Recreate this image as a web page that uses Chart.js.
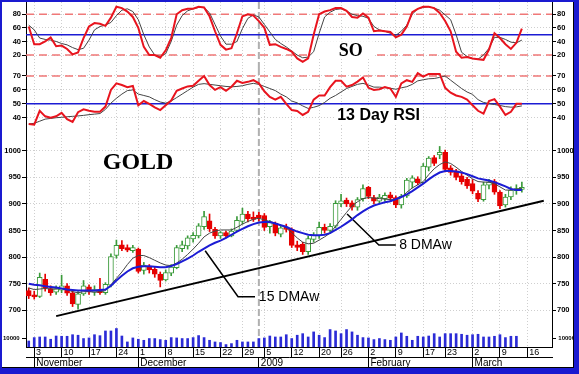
<!DOCTYPE html>
<html>
<head>
<meta charset="utf-8">
<script src="https://cdn.jsdelivr.net/npm/chart.js@4.4.1/dist/chart.umd.min.js"></script>
<style>
  html, body { margin: 0; padding: 0; background: #fff; }
  #wrap { position: relative; width: 579px; height: 374px; background: #1a1ad0; overflow: hidden; }
  #paper { position: absolute; left: 2px; top: 2px; width: 572px; height: 366px; background: #fff; }
  #edge { position: absolute; left: 2px; top: 2px; width: 572px; height: 366px; box-sizing: border-box;
          border-right: 1px solid #000; border-bottom: 1px solid #000; }
  canvas { position: absolute; left: 2px; }
  #so { top: 2px; }
  #rsi { top: 68px; }
  #px { top: 129px; }
</style>
</head>
<body>
<div id="wrap">
  <div id="paper"></div>
  <canvas id="so" width="572" height="66"></canvas>
  <canvas id="rsi" width="572" height="61"></canvas>
  <canvas id="px" width="572" height="239"></canvas>
  <div id="edge"></div>
</div>
<script>
Chart.defaults.font.family = "'Liberation Sans', Arial, sans-serif";
Chart.defaults.color = '#000';

// x = trading day index, 0 = Oct 31 2008 ... 90 = Mar 13 2009
const xMin = -0.5, xMax = 95.5;
const weekIdx = [1, 6, 11, 16, 20, 25, 30, 35, 39, 43, 48, 53, 57, 62, 67, 72, 76, 81, 86, 91];
const weekLbl = ['3', '10', '17', '24', '1', '8', '15', '22', '29', '5', '12', '20', '26', '2', '9', '17', '23', '2', '9', '16'];
const monthIdx = [1, 20, 42, 62, 81];
const monthLbl = ['November', 'December', '2009', 'February', 'March'];
const yearIdx = 42;

// gold candles
const opens = [737,729,726,758,741,734,738,746,733,711,
  731,744,734,739,733,747,803,823,818,812,
  815,775,783,777,768,757,770,780,816,821,
  834,840,857,868,852,840,846,840,850,867,
  881,875,879,878,857,864,843,856,852,823,
  824,810,833,840,856,850,858,900,907,902,
  894,910,931,912,905,910,917,912,898,915,
  941,947,940,969,987,992,997,968,962,953,
  946,938,920,908,935,942,922,898,913,925,927];
const highs = [742,736,770,768,746,746,766,750,737,735,
  756,748,746,760,752,806,832,831,823,822,
  817,790,786,781,772,776,786,822,830,840,
  846,863,886,881,856,848,849,853,876,892,
  886,885,884,882,869,866,860,862,855,830,
  828,839,846,866,862,863,906,918,911,906,
  912,936,933,916,918,921,922,915,918,948,
  953,951,976,989,991,1008,1001,972,965,958,
  950,946,925,941,946,946,925,918,932,936,941];
const lows = [722,721,724,736,728,730,733,728,707,702,
  728,730,728,730,730,744,798,812,810,809,
  770,768,770,762,744,755,765,778,810,815,
  828,836,852,848,835,835,836,838,848,862,
  866,867,868,850,845,840,838,847,818,812,
  805,805,828,835,845,845,855,895,895,888,
  888,905,910,900,900,905,905,893,892,912,
  930,936,938,962,972,985,960,954,945,937,
  929,919,904,905,928,918,891,894,908,918,922];
const closes = [727,725,762,742,733,741,746,732,712,731,
  746,735,739,733,749,801,822,816,813,818,
  773,785,776,768,756,771,781,818,823,836,
  841,859,876,853,840,846,840,849,869,881,
  872,871,873,856,865,845,855,852,822,818,
  810,835,841,856,850,858,901,906,900,894,
  908,929,914,905,913,916,911,898,914,945,
  949,940,971,986,976,997,965,959,950,942,
  934,924,909,936,941,922,896,913,926,929,931];

const volume = [6900,10800,11500,11500,8900,12600,12300,12300,14100,13500,
  9700,10400,14100,13000,18400,18400,21200,12600,5800,10400,
  8900,7700,9700,9700,8500,7700,10800,10400,9700,9700,
  10800,13100,10800,7700,5800,5100,2800,3900,7700,5800,
  5800,5800,9700,10400,12600,11500,11500,14100,9700,13500,
  15300,11500,17300,13500,10800,20000,18400,15300,20000,17300,
  13500,10800,10400,8500,9700,8500,7700,11500,16100,12300,
  7700,12300,11500,12600,15300,11500,15300,15300,15300,14600,
  13500,14100,14600,11500,11500,12300,14100,10800,12300,12300,null];

const ma8 = [742,739,740,741,740,740,741,739,735,733,
  735,735,734,735,737,748,760,772,786,798,
  803,803,799,794,789,785,784,789,796,805,
  815,826,838,845,849,851,851,851,856,862,
  867,871,873,870,867,864,860,855,846,836,
  828,825,826,832,838,845,858,871,884,896,
  904,910,912,911,910,909,908,908,912,922,
  930,936,942,955,966,974,979,976,969,961,
  954,947,942,941,941,938,932,926,926,928,929];
const ma15 = [750,748,747,745,744,743,741,739,738,737,
  737,737,737,738,739,746,756,765,773,779,
  782,783,783,782,781,781,783,787,792,797,
  803,810,816,822,827,831,836,842,848,853,
  858,862,865,866,866,863,860,857,852,848,
  845,842,841,841,842,845,851,857,864,871,
  879,886,892,897,900,903,905,909,913,918,
  924,931,938,946,953,959,962,962,961,959,
  956,952,948,946,944,941,937,933,928,926,926];

// stochastic oscillator
const soK = [62,36,36,40,46,33,34,29,21,24,
  45,62,67,66,63,75,91,89,84,76,
  60,32,20,20,16,27,45,80,86,88,
  88,91,90,77,55,35,28,30,52,77,
  80,78,70,60,35,36,32,29,25,15,
  10,15,50,80,84,86,89,89,85,76,
  75,81,75,55,56,55,54,46,50,62,
  83,88,91,91,89,82,70,55,25,16,
  17,15,14,13,28,52,45,36,29,38,59];
const soD = [64,57,45,43,42,40,37,35,31,28,
  30,42,57,62,64,68,78,86,88,84,
  72,50,32,20,18,22,40,64,78,85,
  88,90,90,82,65,48,36,36,40,59,
  74,79,76,65,54,43,37,32,26,20,
  16,17,25,52,76,83,87,88,85,80,
  78,77,74,62,57,55,52,49,55,64,
  80,88,90,91,89,86,79,72,50,24,
  18,15,14,20,30,46,46,43,39,38,42];

// 13 day RSI
const rsi = [35.5,35,45,41,40,41,43.5,39,37,44,
  46,45,44.3,44.3,48,60,64.7,63.5,62,62.8,
  49,52,50,47.5,45.5,49,52.4,59.4,61,62.5,
  63,66.6,70,63.5,60,62,59.4,62.3,66.6,65,
  65.8,67,64.7,59,55,53,55,50,45.5,44.8,
  42,44.3,53,56,56,62,66.6,66.6,62.3,63.5,
  66,69,61.5,60,60.5,62,61,55,64.7,67,
  65.8,72,69.5,71.5,71.5,71.5,61.5,58,56,55,
  53,49,45,43,52,53.4,48,42,44.3,50,50];
const rsiSig = [35.5,36,37.5,39,39.5,40,40.3,40.7,41,41.3,
  41.7,42.2,42.6,43,46,50.5,54,57,59.5,60,
  57,56,55,53,51.3,50.5,52,54.5,57,59.5,
  62,64,64.5,64,63.5,63,62.5,62.2,62.5,63,
  64,64.7,64,62.5,61,59.5,57,55,52,50.7,
  48.5,46.7,47.5,48.7,51,54,56,58.5,61,62.5,
  64,64.7,63.5,62,62,61.6,61.2,60.5,61.5,62.3,
  64,66.5,67.3,68,68.2,69,70,67,64,61,
  58.5,56.8,53,51,50.2,49.5,48.8,48,47.6,47.8,48.5];

// trend line and label leaders (day index, price)
const trendX = [5, 94], trendY = [689, 906];
const lead15X = [32.2, 38.2, 41.3], lead15Y = [812, 725.6, 725.6];
const lead8X = [58.1, 63.9, 67], lead8Y = [881, 822.7, 822.7];

const soTicks = [20, 40, 60, 80];
const rsiTicks = [40, 50, 60, 70];
const pxTicks = [700, 750, 800, 850, 900, 950, 1000];
const volTicks = [10000];

const pts = arr => arr.map((v, i) => ({ x: i, y: v }));
const pairs = (xs, ys) => xs.map((x, i) => ({ x: x, y: ys[i] }));
const span = (a, b) => a.map((v, i) => ({ x: i, y: [v, b[i]] }));
const up = i => closes[i] >= opens[i];

const RED = '#e8141e', DASH_RED = '#f07878', BLUE = '#1c1cd4', GREEN = '#3a9a3a';
const SANS = "'Liberation Sans', Arial, sans-serif";
const SERIF = "'Liberation Serif', 'Times New Roman', serif";

// reference lines + texts per panel
const panelMarks = {
  so: {
    hlines: [
      { v: 80, color: DASH_RED, width: 1.5, dash: [8, 5] },
      { v: 20, color: DASH_RED, width: 1.5, dash: [8, 5] },
      { v: 50, color: BLUE, width: 1.5, dash: [] }
    ],
    texts: [{ text: 'SO', x: 56.6, y: 18.3, font: 'bold 18px ' + SERIF, base: 'alphabetic', box: [27, 12] }]
  },
  rsi: {
    hlines: [
      { v: 70, color: DASH_RED, width: 1.5, dash: [8, 5] },
      { v: 50, color: BLUE, width: 1.5, dash: [] }
    ],
    texts: [{ text: '13 Day RSI', x: 56.3, y: 38.3, font: 'bold 16px ' + SANS, base: 'alphabetic', box: [3, 3] }]
  },
  px: {
    hlines: [],
    texts: [
      { text: 'GOLD', x: 13.5, y: 965.6, font: 'bold 24px ' + SERIF, base: 'alphabetic', box: [3, 3] },
      { text: '15 DMAw', x: 42.0, y: 725.6, font: '14px ' + SANS, base: 'middle' },
      { text: '8 DMAw', x: 67.6, y: 822.7, font: '14px ' + SANS, base: 'middle' }
    ]
  }
};

const marks = {
  id: 'marks',
  beforeDatasetsDraw(chart) {
    const o = panelMarks[chart.canvas.id];
    if (!o) return;
    const ctx = chart.ctx, a = chart.chartArea;
    const sx = chart.scales.x, sy = chart.scales.y;
    ctx.save();
    ctx.beginPath();
    ctx.rect(a.left, a.top, a.right - a.left, a.bottom - a.top);
    ctx.clip();
    // year separator
    const yx = sx.getPixelForValue(yearIdx);
    ctx.strokeStyle = '#b0b0b0';
    ctx.lineWidth = 2;
    ctx.setLineDash([7, 3]);
    ctx.beginPath(); ctx.moveTo(yx, a.top); ctx.lineTo(yx, a.bottom); ctx.stroke();
    o.hlines.forEach(h => {
      const py = sy.getPixelForValue(h.v);
      ctx.strokeStyle = h.color;
      ctx.lineWidth = h.width;
      ctx.setLineDash(h.dash);
      ctx.beginPath(); ctx.moveTo(a.left, py); ctx.lineTo(a.right, py); ctx.stroke();
    });
    ctx.setLineDash([]);
    o.texts.forEach(t => {
      ctx.font = t.font;
      ctx.textBaseline = t.base;
      ctx.textAlign = 'left';
      const px = sx.getPixelForValue(t.x), py = sy.getPixelForValue(t.y);
      if (t.box) {
        const m = ctx.measureText(t.text);
        ctx.fillStyle = '#fff';
        ctx.fillRect(px - t.box[0], py - m.actualBoundingBoxAscent - 2,
          m.width + t.box[0] + t.box[1], m.actualBoundingBoxAscent + m.actualBoundingBoxDescent + 4);
      }
      ctx.fillStyle = '#000';
      ctx.fillText(t.text, px, py);
    });
    ctx.restore();
  }
};
Chart.register(marks);

function yAxis(pos, min, max, ticks, w, extra) {
  return Object.assign({
    type: 'linear', position: pos, min: min, max: max, bounds: 'data',
    afterBuildTicks: s => { s.ticks = ticks.map(v => ({ value: v })); },
    afterFit: s => { s.width = w; s.paddingTop = 0; s.paddingBottom = 0; },
    grid: { drawOnChartArea: pos === 'left', color: '#cfcfcf', tickLength: 4, tickColor: '#000' },
    border: { color: '#000', dash: [1, 2] },
    ticks: { font: { size: 7.5, weight: 'bold' }, color: '#000', padding: 1, callback: v => String(v) }
  }, extra || {});
}

function xGrid() {
  return {
    type: 'linear', min: xMin, max: xMax, bounds: 'data', offset: false,
    afterBuildTicks: s => { s.ticks = weekIdx.map(v => ({ value: v })); },
    afterFit: s => { s.height = 0; s.paddingLeft = 0; s.paddingRight = 0; },
    ticks: { display: false },
    grid: { color: '#cfcfcf', drawTicks: false, offset: false },
    border: { display: false, dash: [1, 2] }
  };
}

function base(scales) {
  return {
    responsive: false, animation: false, events: [],
    layout: { padding: 0, autoPadding: false },
    scales: scales,
    plugins: { legend: { display: false }, tooltip: { enabled: false } }
  };
}

const line = (data, color, width, order, yId) => ({
  type: 'line', data: data, borderColor: color, borderWidth: width,
  pointRadius: 0, tension: 0, order: order, yAxisID: yId || 'y'
});

// SO panel
new Chart(document.getElementById('so'), {
  type: 'line',
  data: { datasets: [line(pts(soK), RED, 2, 0), line(pts(soD), '#444', 1, 1)] },
  options: base({
    x: xGrid(),
    y: yAxis('left', 1, 98, soTicks, 24),
    y2: yAxis('right', 1, 98, soTicks, 22)
  })
});

// RSI panel
new Chart(document.getElementById('rsi'), {
  type: 'line',
  data: { datasets: [line(pts(rsi), RED, 2, 0), line(pts(rsiSig), '#444', 1, 1)] },
  options: base({
    x: xGrid(),
    y: yAxis('left', 31.9, 75.75, rsiTicks, 24),
    y2: yAxis('right', 31.9, 75.75, rsiTicks, 22)
  })
});

// price + volume panel; volume axes take no width, their labels are mirrored out
const volTick = pad => ({ font: { size: 6, weight: 'bold' }, color: '#000', mirror: true, padding: pad,
  callback: v => String(v) });
new Chart(document.getElementById('px'), {
  type: 'bar',
  data: {
    datasets: [
      { type: 'bar', data: pts(volume), yAxisID: 'yv', backgroundColor: '#2b2bd6',
        barThickness: 2, grouped: false, order: 4 },
      { type: 'bar', data: span(lows, highs), yAxisID: 'y', barThickness: 1, grouped: false, order: 3,
        backgroundColor: c => up(c.dataIndex) ? GREEN : '#e60000', borderWidth: 0 },
      { type: 'bar', data: span(opens, closes), yAxisID: 'y', barThickness: 5, grouped: false, order: 2,
        backgroundColor: c => up(c.dataIndex) ? '#fff' : '#e60000',
        borderColor: c => up(c.dataIndex) ? GREEN : '#e60000', borderWidth: 1, borderSkipped: false },
      line(pts(ma8), '#444', 1, 1),
      line(pts(ma15), BLUE, 2, 0),
      line(pairs(trendX, trendY), '#000', 2, 0),
      line(pairs(lead15X, lead15Y), '#000', 1.5, 0),
      line(pairs(lead8X, lead8Y), '#000', 1.5, 0)
    ]
  },
  options: base({
    x: {
      type: 'linear', position: 'bottom', weight: 0, min: xMin, max: xMax, bounds: 'data', offset: false,
      afterBuildTicks: s => { s.ticks = weekIdx.map(v => ({ value: v })); },
      afterFit: s => { s.height = 10; s.paddingLeft = 0; s.paddingRight = 0; },
      grid: { color: '#cfcfcf', tickLength: 10, tickColor: '#000', offset: false },
      border: { color: '#000', dash: [1, 2] },
      ticks: { autoSkip: false, maxRotation: 0, align: 'start', padding: -10, font: { size: 9 },
        callback: v => '\u2009' + weekLbl[weekIdx.indexOf(v)] }
    },
    x2: {
      type: 'linear', position: 'bottom', weight: 1, min: xMin, max: xMax, bounds: 'data', offset: false,
      afterBuildTicks: s => { s.ticks = monthIdx.map(v => ({ value: v })); },
      afterFit: s => { s.height = 11; s.paddingLeft = 0; s.paddingRight = 0; },
      grid: { drawOnChartArea: false, tickLength: 11, tickColor: '#000', offset: false },
      border: { color: '#000' },
      ticks: { autoSkip: false, maxRotation: 0, align: 'start', padding: -11, font: { size: 10 },
        callback: v => '\u2009' + monthLbl[monthIdx.indexOf(v)] }
    },
    y: yAxis('left', 631, 1040.8, pxTicks, 24, { weight: 1 }),
    yv: yAxis('left', 0, 250000, volTicks, 0, { weight: 0, ticks: volTick(-23),
      grid: { drawOnChartArea: false, tickLength: 4, tickColor: '#000' } }),
    y2: yAxis('right', 631, 1040.8, pxTicks, 22, { weight: 1 }),
    yv2: yAxis('right', 0, 250000, volTicks, 0, { weight: 0, ticks: volTick(23),
      grid: { drawOnChartArea: false, tickLength: 4, tickColor: '#000' } })
  })
});
</script>
</body>
</html>
